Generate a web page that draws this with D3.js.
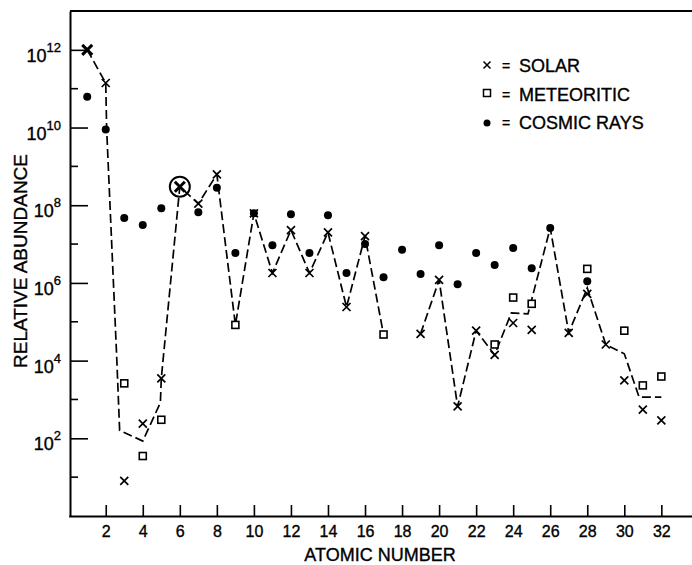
<!DOCTYPE html>
<html>
<head>
<meta charset="utf-8">
<script src="https://cdn.jsdelivr.net/npm/d3@7"></script>
<style>
  body { margin: 0; background: #fff; }
  text { font-family: "Liberation Sans", Arial, sans-serif; fill: #000; stroke: #000; stroke-width: 0.35px; }
</style>
</head>
<body>
<svg id="chart"></svg>
<script>
// atomic number + abundance
const solarZ = [1, 2, 3, 4, 5, 6, 7, 8, 10, 11, 12, 13, 14, 15, 16, 19, 20, 21, 22, 23, 24, 25, 27, 28, 29, 30, 31, 32];
const solarVal = [1e12, 1.4e11, 8, 240, 3500, 3e8, 1.1e8, 6.2e8, 6.2e7, 1.8e6, 2.3e7, 1.8e6, 2e7, 2.4e5, 1.6e7, 4.9e4, 1.2e6, 660, 5.9e4, 1.4e4, 9.3e4, 6.2e4, 5.2e4, 5.2e5, 2.6e4, 3100, 550, 290];

const meteorZ = [3, 4, 5, 9, 17, 23, 24, 25, 28, 30, 31, 32];
const meteorVal = [2600, 35, 300, 8.3e4, 4.7e4, 2.6e4, 4.2e5, 2.9e5, 2.3e6, 5.9e4, 2300, 3900];

const cosmicZ = [1, 2, 3, 4, 5, 7, 8, 9, 10, 11, 12, 13, 14, 15, 16, 17, 18, 19, 20, 21, 22, 23, 24, 25, 26, 28];
const cosmicVal = [6.2e10, 8.9e9, 4.7e7, 3.1e7, 8.3e7, 6.6e7, 2.8e8, 5.9e6, 6.2e7, 9.3e6, 5.9e7, 5.9e6, 5.5e7, 1.8e6, 1e7, 1.4e6, 7.1e6, 1.7e6, 9.3e6, 9.3e5, 5.9e6, 2.9e6, 7.9e6, 2.4e6, 2.6e7, 1.1e6];

// dashed trend, two pieces
const trendZ1 = [1, 2, 2.05, 2.6, 2.75, 4, 4.95, 5, 6, 7, 8, 9, 10, 11, 12, 13, 14, 15, 16, 17];
const trendVal1 = [1e12, 1.4e11, 9e9, 1e4, 160, 85, 830, 3500, 3e8, 1.1e8, 6.2e8, 8.3e4, 6.2e7, 1.8e6, 2.3e7, 1.8e6, 2e7, 2.4e5, 1.6e7, 4.7e4];
const trendZ2 = [19, 20, 21, 22, 23, 23.9, 24.8, 26, 27, 28, 29, 30, 30.8, 32];
const trendVal2 = [4.9e4, 1.2e6, 660, 5.9e4, 1.4e4, 1.7e5, 1.6e5, 2.6e7, 5.2e4, 7.4e5, 2.6e4, 1.5e4, 1150, 1150];

const boldSolar = [1, 6];
const circledZ = [6];
const circledVal = [3e8];

const xTicks = d3.range(2, 33, 2);
const yMajor = [1e2, 1e4, 1e6, 1e8, 1e10, 1e12];
const yMinor = [1e1, 1e3, 1e5, 1e7, 1e9, 1e11];

const legendItems = ["SOLAR", "METEORITIC", "COSMIC RAYS"];

const w = 692;
const h = 565;

let svg = d3.select("#chart")
			.attr("width", w)
			.attr("height", h);

let x = d3.scaleLinear()
			.domain([0, 34])
			.range([68.7, 68.7 + 34 * 18.52]);

let y = d3.scaleLog()
			.domain([1, 1e13])
			.range([516, 11]);

const zip = (zs, vs) => zs.map((z, i) => ({z: z, v: vs[i]}));

/* ***Frame & axes*** */
svg.append("line")
	.attr("x1", 70).attr("x2", w)
	.attr("y1", 11).attr("y2", 11)
	.attr("stroke", "#000").attr("stroke-width", 2);

let xAxis = svg.append("g")
	.attr("transform", "translate(0,516)")
	.call(d3.axisBottom(x).tickValues(xTicks).tickSizeInner(-11).tickSizeOuter(0).tickPadding(10));
xAxis.select(".domain").attr("stroke-width", 2);
xAxis.selectAll(".tick line").attr("stroke-width", 1.6);
xAxis.selectAll(".tick text")
	.style("font-size", "16px")
	.style("font-family", "Liberation Sans, Arial, sans-serif");

let yAxis = svg.append("g")
	.attr("transform", "translate(70,0)")
	.call(d3.axisLeft(y).tickValues(yMajor).tickSizeInner(-18).tickSizeOuter(0).tickFormat(""));
yAxis.select(".domain").attr("stroke-width", 2);
yAxis.selectAll(".tick line").attr("stroke-width", 1.6);

svg.append("g")
	.selectAll("line")
	.data(yMinor)
	.enter()
	.append("line")
	.attr("x1", 70).attr("x2", 78)
	.attr("y1", d => y(d)).attr("y2", d => y(d))
	.attr("stroke", "#000").attr("stroke-width", 1.6);

let yLabels = svg.append("g")
	.selectAll("text")
	.data(yMajor)
	.enter()
	.append("text")
	.attr("x", 61)
	.attr("y", d => y(d) + 12)
	.attr("text-anchor", "end");
yLabels.append("tspan")
	.style("font-size", "18px")
	.text("10");
yLabels.append("tspan")
	.attr("dy", -10)
	.style("font-size", "13px")
	.text(d => Math.round(Math.log10(d)));

svg.append("text")
	.attr("x", 380).attr("y", 561)
	.attr("text-anchor", "middle")
	.style("font-size", "18px")
	.text("ATOMIC NUMBER");

svg.append("text")
	.attr("transform", "translate(27,261) rotate(-90)")
	.attr("text-anchor", "middle")
	.style("font-size", "19px")
	.text("RELATIVE ABUNDANCE");

/* ***Dashed trend*** */
let line = d3.line()
	.x(d => x(d.z))
	.y(d => y(d.v));

[zip(trendZ1, trendVal1), zip(trendZ2, trendVal2)].forEach(seg => {
	svg.append("path")
		.datum(seg)
		.attr("d", line)
		.attr("fill", "none")
		.attr("stroke", "#000")
		.attr("stroke-width", 1.7)
		.attr("stroke-dasharray", "9,4");
});

/* ***Markers*** */
const crossPath = s => `M${-s},${-s}L${s},${s}M${-s},${s}L${s},${-s}`;

svg.append("g")
	.selectAll("circle")
	.data(zip(cosmicZ, cosmicVal))
	.enter()
	.append("circle")
	.attr("cx", d => x(d.z))
	.attr("cy", d => y(d.v))
	.attr("r", 4)
	.attr("fill", "#000");

svg.append("g")
	.selectAll("rect")
	.data(zip(meteorZ, meteorVal))
	.enter()
	.append("rect")
	.attr("x", d => x(d.z) - 3.5)
	.attr("y", d => y(d.v) - 3.5)
	.attr("width", 7)
	.attr("height", 7)
	.attr("fill", "#fff")
	.attr("stroke", "#000")
	.attr("stroke-width", 1.6);

svg.append("g")
	.selectAll("path")
	.data(zip(solarZ, solarVal))
	.enter()
	.append("path")
	.attr("transform", d => `translate(${x(d.z)},${y(d.v)})`)
	.attr("d", d => crossPath(boldSolar.includes(d.z) ? 5 : 4))
	.attr("fill", "none")
	.attr("stroke", "#000")
	.attr("stroke-width", d => boldSolar.includes(d.z) ? 3 : 1.7);

svg.append("g")
	.selectAll("circle")
	.data(zip(circledZ, circledVal))
	.enter()
	.append("circle")
	.attr("cx", d => x(d.z))
	.attr("cy", d => y(d.v))
	.attr("r", 10)
	.attr("fill", "none")
	.attr("stroke", "#000")
	.attr("stroke-width", 2);

/* ***Legend*** */
let legend = svg.append("g")
	.attr("transform", "translate(487,0)");

legend.append("path")
	.attr("transform", "translate(0,65)")
	.attr("d", crossPath(3.5))
	.attr("stroke", "#000").attr("stroke-width", 1.5);
legend.append("rect")
	.attr("x", -3.5).attr("y", 89.5)
	.attr("width", 7).attr("height", 7)
	.attr("fill", "none").attr("stroke", "#000").attr("stroke-width", 1.5);
legend.append("circle")
	.attr("cx", 0).attr("cy", 123)
	.attr("r", 3.5).attr("fill", "#000");

legend.selectAll("text.eq")
	.data(legendItems)
	.enter()
	.append("text")
	.attr("class", "eq")
	.attr("x", 15)
	.attr("y", (d, i) => 71 + i * 28.5)
	.style("font-size", "14px")
	.text("=");

legend.selectAll("text.lab")
	.data(legendItems)
	.enter()
	.append("text")
	.attr("class", "lab")
	.attr("x", 32)
	.attr("y", (d, i) => 72 + i * 28.5)
	.style("font-size", "18px")
	.text(d => d);
</script>
</body>
</html>
